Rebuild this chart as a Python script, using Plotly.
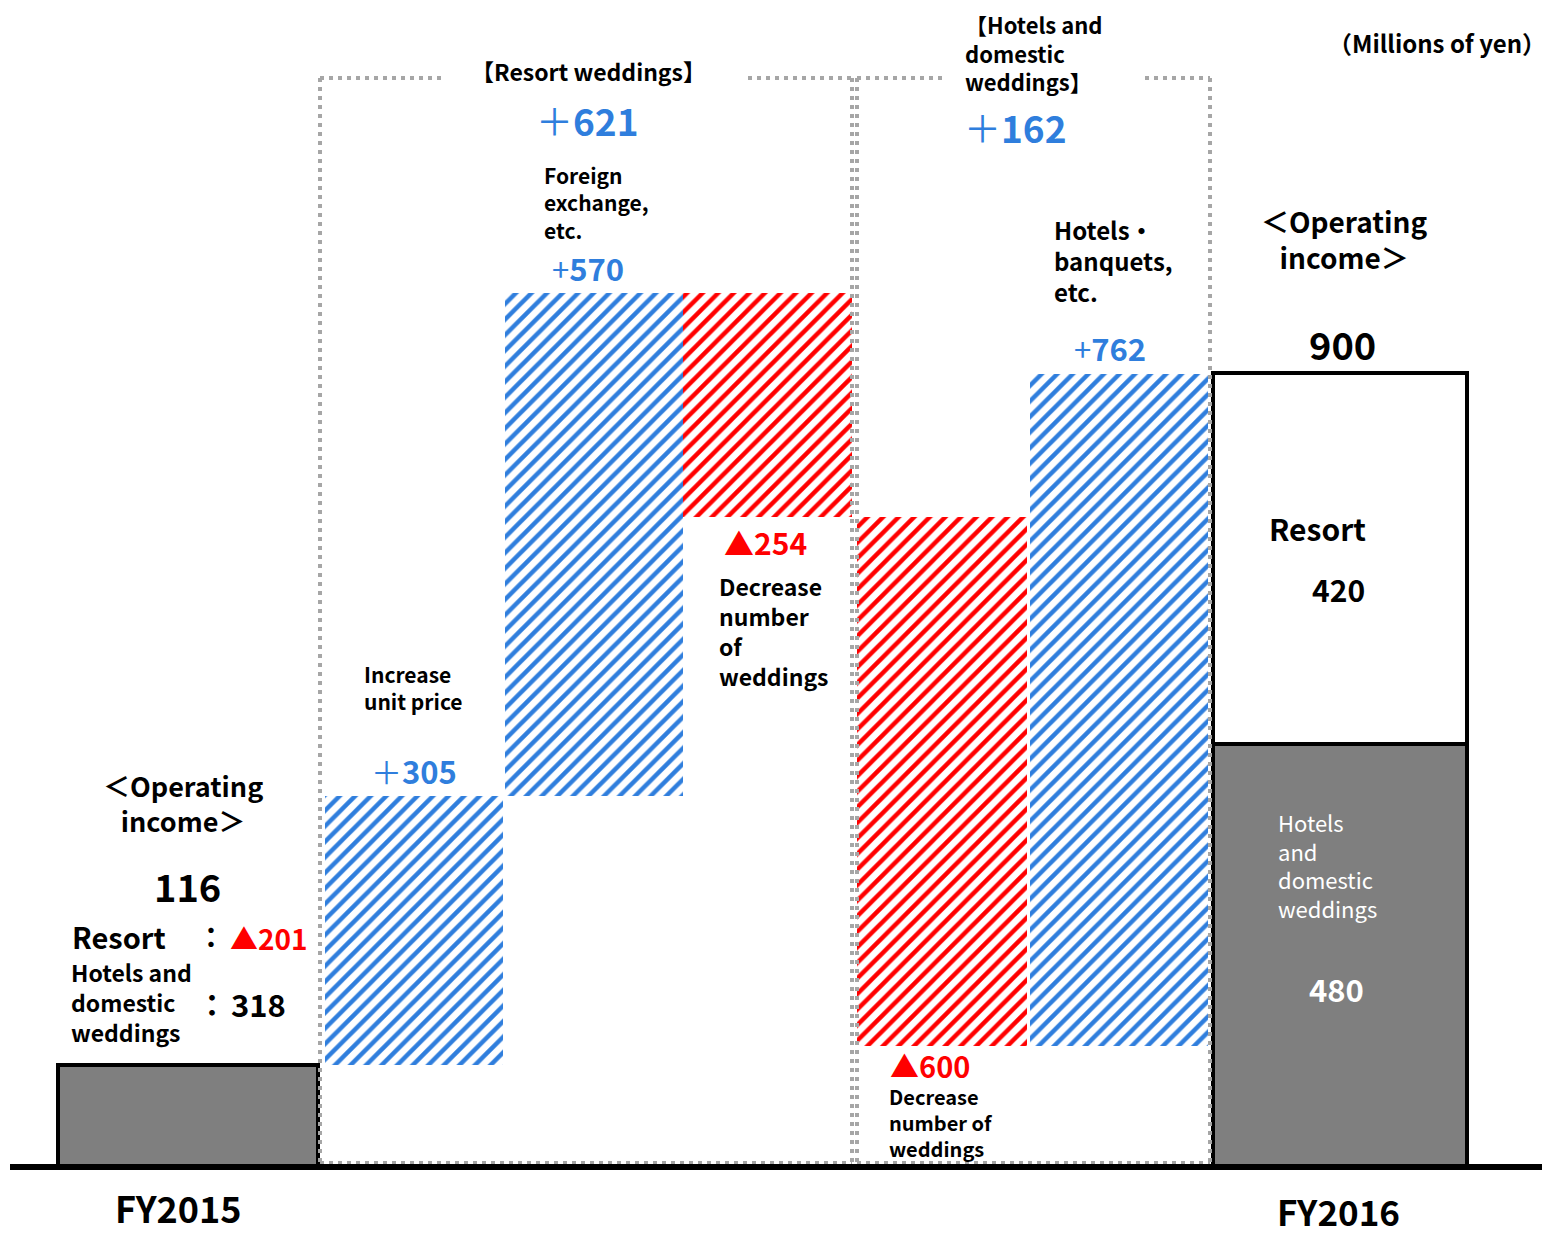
import plotly.graph_objects as go

# ---------------- data (millions of yen) ----------------
fy2015_total = 116
fy2015_resort = -201
fy2015_hotels = 318

resort_changes = [305, 570, -254]     # unit price, foreign exchange etc., number of weddings
hotel_changes = [-600, 762]           # number of weddings, hotels/banquets etc.
resort_subtotal = 621
hotel_subtotal = 162

fy2016_hotels = 480
fy2016_resort = 420
fy2016_total = 900

period_labels = ["FY2015", "FY2016"]

# ---------------- layout constants ----------------
W, H = 1558, 1239
PLOT_H = 1167                      # pixel height of the plotting area (baseline at bottom)
Y_MAX = 1323                       # value range shown on the hidden y axis
FONT = "Noto Sans CJK JP"
BLUE = "#2F7EDD"
RED = "#FF0000"
GREY = "#7F7F7F"
DOT = "#A6A6A6"

# bar centres / widths on a pixel-like x axis
centres = [188, 414, 594, 767.5, 942, 1119, 1340]
widths = [260, 178, 178, 169, 170, 178, 254]

# running waterfall bases
steps = resort_changes + hotel_changes
bases, heights, tops, bottoms = [], [], [], []
running = fy2015_total
for c in steps:
    lo = running if c > 0 else running + c
    bases.append(lo)
    heights.append(abs(c))
    bottoms.append(lo)
    tops.append(lo + abs(c))
    running += c

fig = go.Figure()

# FY2015 total
fig.add_trace(go.Bar(
    x=[centres[0]], y=[fy2015_total], width=[widths[0]],
    marker=dict(color=GREY, line=dict(color="black", width=4)),
))

# increases (blue hatching) and decreases (red hatching)
inc_idx = [i for i, c in enumerate(steps) if c > 0]
dec_idx = [i for i, c in enumerate(steps) if c < 0]
for idx, col in ((inc_idx, BLUE), (dec_idx, RED)):
    fig.add_trace(go.Bar(
        x=[centres[i + 1] for i in idx],
        y=[heights[i] for i in idx],
        base=[bases[i] for i in idx],
        width=[widths[i + 1] for i in idx],
        marker=dict(color="white", line=dict(width=0),
                    pattern=dict(shape="/", fgcolor=col, bgcolor="white",
                                 size=11, solidity=0.4, fillmode="replace")),
    ))

# FY2016 stacked total
fig.add_trace(go.Bar(
    x=[centres[6]], y=[fy2016_hotels], base=[0], width=[widths[6]],
    marker=dict(color=GREY, line=dict(color="black", width=4)),
))
fig.add_trace(go.Bar(
    x=[centres[6]], y=[fy2016_resort], base=[fy2016_hotels], width=[widths[6]],
    marker=dict(color="white", line=dict(color="black", width=4)),
))

annotations = []


def py(p):
    return 1 - p / PLOT_H


def txt(text, x, y, size, color="black", xanchor="center", yref="paper",
        yshift=0, weight="bold"):
    """Place a (possibly multi-line) label; y is a pixel row for paper refs."""
    if isinstance(text, (list, tuple)):
        text = "<br>".join(text)
    annotations.append(dict(
        text=text, x=x, y=py(y) if yref == "paper" else y, xref="x", yref=yref,
        xanchor=xanchor, yanchor="middle", yshift=yshift, showarrow=False,
        align="left" if xanchor == "left" else "center",
        font=dict(family=FONT, size=size, color=color, weight=weight),
    ))


def signed(v, wide=True):
    """Value label: thin plus/triangle sign followed by bold digits."""
    if v < 0:
        return f"▲<b>{abs(v)}</b>"
    sign = "＋" if wide else "+"
    return f"<span style='font-weight:normal'>{sign}</span><b>{v}</b>"


def num(v):
    return f"<b>{v}</b>"


# ---- FY2015 block ----
txt(["＜Operating", "income＞"], 183, 803, 27)
txt(str(fy2015_total), 187, 885, 38)
txt("Resort", 70, 936, 29, xanchor="left")
txt("：", 211, 936, 28)
txt(signed(fy2015_resort), 228, 938, 28, color=RED, xanchor="left", weight="normal")
txt(["Hotels and", "domestic", "weddings"], 69, 1002, 23, xanchor="left")
txt("：", 212, 1003, 30)
txt(num(fy2015_hotels), 229, 1003, 31, xanchor="left", weight="normal")

# ---- resort weddings group ----
txt("【Resort weddings】", 588, 71, 23)
txt(signed(resort_subtotal), 587, 120, 37, color=BLUE, weight="normal")

txt(signed(resort_changes[0]), 414, tops[0], 31, color=BLUE, yref="y", yshift=25, weight="normal")
txt(["Increase", "unit price"], 362, tops[0], 21, xanchor="left", yref="y", yshift=108)

txt(signed(resort_changes[1], wide=False), 588, tops[1], 31, color=BLUE, yref="y", yshift=25, weight="normal")
txt(["Foreign", "exchange,", "etc."], 542, tops[1], 21, xanchor="left", yref="y", yshift=90)

txt(signed(resort_changes[2]), 765, bottoms[2], 30, color=RED, yref="y", yshift=-25, weight="normal")
txt(["Decrease", "number", "of", "weddings"], 717, bottoms[2], 23, xanchor="left",
    yref="y", yshift=-114)

# ---- hotels and domestic weddings group ----
txt(["【Hotels and", "domestic", "weddings】"], 963, 52, 22, xanchor="left")
txt(signed(hotel_subtotal), 1015, 127, 37, color=BLUE, weight="normal")

txt(signed(hotel_changes[0]), 930, bottoms[3], 29, color=RED, yref="y", yshift=-19, weight="normal")
txt(["Decrease", "number of", "weddings"], 887, bottoms[3], 20, xanchor="left",
    yref="y", yshift=-76)

txt(signed(hotel_changes[1], wide=False), 1110, tops[4], 31, color=BLUE, yref="y", yshift=27, weight="normal")
txt(["Hotels・", "banquets,", "etc."], 1052, tops[4], 24, xanchor="left", yref="y", yshift=114)

# ---- FY2016 block ----
txt("（Millions of yen）", 1548, 43, 24, xanchor="right")
txt(["＜Operating", "income＞"], 1344, 239, 28)
txt(str(fy2016_total), 1342, fy2016_total, 38, yref="y", yshift=30)
txt("Resort", 1317, 528, 30)
txt(num(fy2016_resort), 1338, 589, 30, weight="normal")
txt(["Hotels", "and", "domestic", "weddings"], 1276, 865, 22, color="white",
    xanchor="left", weight="normal")
txt(num(fy2016_hotels), 1336, 988, 31, color="white", weight="normal")

# ---- period labels ----
txt(period_labels[0], 178, 1207, 36)
txt(period_labels[1], 1338, 1210, 35)

# ---- dotted group frames and baseline ----
shapes = []


def dotted(x0, y0, x1, y1):
    shapes.append(dict(type="line", xref="x", yref="paper", x0=x0, x1=x1,
                       y0=py(y0), y1=py(y1),
                       line=dict(color=DOT, width=4, dash="4px,5px")))


for (l, r, g0, g1) in ((320, 852, 445, 748), (857, 1210, 945, 1145)):
    dotted(l, 78, l, 1163)
    dotted(r, 78, r, 1163)
    dotted(l, 1163, r, 1163)
    dotted(l, 78, g0, 78)
    dotted(g1, 78, r, 78)

shapes.append(dict(type="line", xref="x", yref="paper", x0=10, x1=1542, y0=0, y1=0,
                   line=dict(color="black", width=6)))

fig.update_layout(
    width=W, height=H,
    margin=dict(l=0, r=0, t=0, b=H - PLOT_H, pad=0),
    paper_bgcolor="white", plot_bgcolor="white",
    barmode="overlay", bargap=0, showlegend=False,
    xaxis=dict(range=[0, W], visible=False, fixedrange=True),
    yaxis=dict(range=[0, Y_MAX], visible=False, fixedrange=True),
    annotations=annotations, shapes=shapes,
)

fig.write_html("out.html")
